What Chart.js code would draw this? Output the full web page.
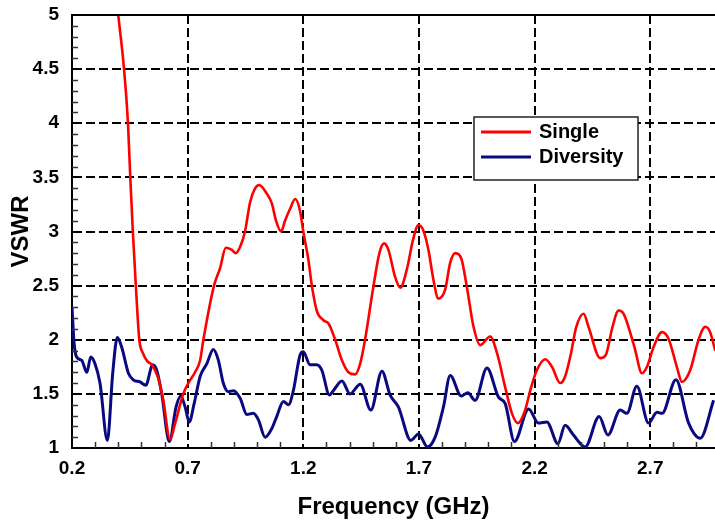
<!DOCTYPE html>
<html>
<head>
<meta charset="utf-8">
<script src="https://cdn.jsdelivr.net/npm/chart.js@4/dist/chart.umd.min.js"></script>
<style>
  html, body { margin: 0; padding: 0; background: #ffffff; }
  #wrap { width: 715px; height: 522px; position: relative; }
</style>
</head>
<body>
<div id="wrap"><canvas id="c" width="715" height="522"></canvas></div>
<script>
// ---- Data ----
const seriesNames = ['Single', 'Diversity'];
const xTickValues = [0.2, 0.7, 1.2, 1.7, 2.2, 2.7];
const yTickValues = [1, 1.5, 2, 2.5, 3, 3.5, 4, 4.5, 5];

const freqSingle = [0.400, 0.425, 0.442, 0.452, 0.463, 0.476, 0.491, 0.506, 0.526, 0.545,
  0.572, 0.594, 0.624, 0.645, 0.681, 0.703, 0.732, 0.754, 0.768, 0.814,
  0.840, 0.865, 0.891, 0.908, 0.927, 0.948, 0.970, 0.992, 1.009, 1.042,
  1.064, 1.082, 1.104, 1.121, 1.143, 1.165, 1.186, 1.200, 1.222, 1.237,
  1.258, 1.287, 1.309, 1.338, 1.367, 1.395, 1.424, 1.446, 1.467, 1.503,
  1.529, 1.549, 1.568, 1.597, 1.619, 1.650, 1.674, 1.698, 1.719, 1.741,
  1.763, 1.784, 1.813, 1.835, 1.857, 1.883, 1.907, 1.936, 1.965, 2.008,
  2.037, 2.073, 2.102, 2.128, 2.156, 2.185, 2.210, 2.246, 2.275, 2.311,
  2.332, 2.358, 2.379, 2.412, 2.433, 2.484, 2.508, 2.537, 2.563, 2.585,
  2.632, 2.664, 2.686, 2.714, 2.751, 2.779, 2.815, 2.837, 2.873, 2.909,
  2.938, 2.959, 2.981];
const vswrSingle = [5.00, 4.50, 4.00, 3.50, 3.00, 2.50, 2.00, 1.88, 1.80, 1.77,
  1.65, 1.45, 1.08, 1.22, 1.50, 1.60, 1.70, 1.81, 2.00, 2.50,
  2.66, 2.85, 2.83, 2.80, 2.86, 3.00, 3.27, 3.40, 3.43, 3.35,
  3.26, 3.10, 3.00, 3.10, 3.21, 3.30, 3.19, 3.00, 2.74, 2.50,
  2.27, 2.18, 2.15, 2.00, 1.81, 1.70, 1.68, 1.78, 2.00, 2.49,
  2.80, 2.89, 2.83, 2.58, 2.48, 2.67, 2.92, 3.06, 3.01, 2.83,
  2.55, 2.38, 2.46, 2.71, 2.80, 2.75, 2.49, 2.12, 1.95, 2.03,
  1.88, 1.56, 1.32, 1.23, 1.33, 1.56, 1.72, 1.82, 1.75, 1.60,
  1.66, 1.88, 2.11, 2.24, 2.12, 1.83, 1.86, 2.12, 2.27, 2.24,
  1.93, 1.69, 1.75, 1.93, 2.07, 2.01, 1.75, 1.61, 1.72, 2.00,
  2.12, 2.07, 1.90];

const freqDiversity = [0.200, 0.209, 0.220, 0.242, 0.264, 0.281, 0.299, 0.321, 0.353, 0.376,
  0.396, 0.415, 0.444, 0.465, 0.494, 0.519, 0.549, 0.566, 0.588, 0.621,
  0.650, 0.670, 0.689, 0.707, 0.728, 0.754, 0.783, 0.811, 0.833, 0.854,
  0.876, 0.898, 0.927, 0.956, 0.984, 1.006, 1.035, 1.064, 1.085, 1.114,
  1.136, 1.157, 1.186, 1.200, 1.229, 1.258, 1.280, 1.313, 1.330, 1.367,
  1.402, 1.446, 1.492, 1.540, 1.575, 1.611, 1.665, 1.698, 1.737, 1.770,
  1.806, 1.835, 1.883, 1.911, 1.943, 1.994, 2.044, 2.073, 2.113, 2.174,
  2.217, 2.253, 2.301, 2.332, 2.368, 2.419, 2.479, 2.517, 2.570, 2.599,
  2.642, 2.693, 2.729, 2.751, 2.811, 2.866, 2.916, 2.974];
const vswrDiversity = [2.30, 1.97, 1.84, 1.81, 1.70, 1.84, 1.78, 1.60, 1.07, 1.69,
  2.02, 1.93, 1.69, 1.63, 1.61, 1.58, 1.77, 1.72, 1.50, 1.06,
  1.38, 1.48, 1.38, 1.24, 1.41, 1.66, 1.78, 1.91, 1.81, 1.60,
  1.52, 1.53, 1.46, 1.31, 1.32, 1.26, 1.10, 1.18, 1.29, 1.43,
  1.40, 1.53, 1.86, 1.89, 1.77, 1.77, 1.72, 1.49, 1.53, 1.62,
  1.50, 1.59, 1.35, 1.71, 1.49, 1.38, 1.07, 1.13, 1.01, 1.10,
  1.38, 1.67, 1.48, 1.51, 1.44, 1.74, 1.47, 1.41, 1.06, 1.36,
  1.23, 1.24, 1.04, 1.21, 1.12, 1.01, 1.29, 1.12, 1.35, 1.32,
  1.57, 1.23, 1.33, 1.32, 1.63, 1.23, 1.09, 1.44];

const seriesColors = ['#ff0000', '#0a0a80'];

const toPoints = (xs, ys) => xs.map((x, i) => ({ x: x, y: ys[i] }));

// ---- Plugins ----
const minorTicks = {
  id: 'minorTicks',
  afterDatasetsDraw(chart) {
    const { ctx, chartArea, scales } = chart;
    ctx.save();
    ctx.strokeStyle = '#333333';
    ctx.lineWidth = 1.5;
    ctx.beginPath();
    for (let k = 11; k < 50; k++) {
      if (k % 5 === 0) continue;
      const py = Math.round(scales.y.getPixelForValue(k / 10)) + 0.5;
      ctx.moveTo(chartArea.left, py);
      ctx.lineTo(chartArea.left + 6, py);
    }
    for (let k = 3; k < 30; k++) {
      if ((k - 2) % 5 === 0) continue;
      const px = Math.round(scales.x.getPixelForValue(k / 10)) + 0.5;
      if (px > chartArea.right) continue;
      ctx.moveTo(px, chartArea.bottom);
      ctx.lineTo(px, chartArea.bottom - 6);
    }
    ctx.stroke();
    // solid top frame line
    ctx.strokeStyle = '#000000';
    ctx.lineWidth = 2;
    ctx.beginPath();
    ctx.moveTo(chartArea.left, chartArea.top);
    ctx.lineTo(chartArea.right, chartArea.top);
    ctx.stroke();
    ctx.restore();
  }
};

const boxLegend = {
  id: 'boxLegend',
  afterDraw(chart) {
    const { ctx } = chart;
    const bx = 474, by = 117, bw = 164, bh = 63;
    ctx.save();
    ctx.fillStyle = '#ffffff';
    ctx.fillRect(bx, by, bw, bh);
    ctx.strokeStyle = '#222222';
    ctx.lineWidth = 1.5;
    ctx.strokeRect(bx, by, bw, bh);
    ctx.font = 'bold 20px "Liberation Sans", Arial, sans-serif';
    ctx.textBaseline = 'middle';
    ctx.textAlign = 'left';
    chart.data.datasets.forEach((ds, i) => {
      const ly = by + 15 + i * 25;
      ctx.strokeStyle = ds.borderColor;
      ctx.lineWidth = 3;
      ctx.beginPath();
      ctx.moveTo(bx + 7, ly);
      ctx.lineTo(bx + 57, ly);
      ctx.stroke();
      ctx.fillStyle = '#000000';
      ctx.fillText(ds.label, bx + 65, ly + 0.5);
    });
    ctx.restore();
  }
};

const gridDash = (c) => (c.tick && Math.abs(c.tick.value - 5) < 1e-9) ? [] : [9, 4];

new Chart(document.getElementById('c'), {
  type: 'line',
  data: {
    datasets: [
      {
        label: seriesNames[0],
        data: toPoints(freqSingle, vswrSingle),
        borderColor: seriesColors[0],
        borderWidth: 2.6,
        pointRadius: 0,
        cubicInterpolationMode: 'monotone',
        fill: false
      },
      {
        label: seriesNames[1],
        data: toPoints(freqDiversity, vswrDiversity),
        borderColor: seriesColors[1],
        borderWidth: 3,
        pointRadius: 0,
        cubicInterpolationMode: 'monotone',
        fill: false
      }
    ]
  },
  options: {
    responsive: false,
    animation: false,
    devicePixelRatio: 1,
    layout: { padding: { top: 15, right: 0, bottom: 0, left: 0 } },
    plugins: {
      legend: { display: false },
      tooltip: { enabled: false }
    },
    scales: {
      x: {
        type: 'linear',
        min: 0.2,
        max: 2.98,
        afterBuildTicks: (s) => { s.ticks = xTickValues.map(v => ({ value: v })); },
        afterFit: (s) => { s.height = 74; s.paddingLeft = 0; s.paddingRight = 0; s.paddingTop = 0; s.paddingBottom = 0; },
        ticks: {
          color: '#000000',
          padding: 9,
          maxRotation: 0,
          autoSkip: false,
          font: { family: '"Liberation Sans", Arial, sans-serif', size: 19, weight: 'bold' },
          callback: (v) => String(v)
        },
        grid: { color: '#000000', lineWidth: 2, drawTicks: false },
        border: { display: true, color: '#000000', width: 2, dash: [9, 4] },
        title: {
          display: true,
          text: 'Frequency (GHz)',
          color: '#000000',
          padding: { top: 0, bottom: 0 },
          font: { family: '"Liberation Sans", Arial, sans-serif', size: 24, weight: 'bold' }
        }
      },
      y: {
        type: 'linear',
        min: 1,
        max: 5,
        afterBuildTicks: (s) => { s.ticks = yTickValues.map(v => ({ value: v })); },
        afterFit: (s) => { s.width = 72; s.paddingTop = 0; s.paddingBottom = 0; s.paddingLeft = 0; s.paddingRight = 0; },
        ticks: {
          color: '#000000',
          padding: 13,
          autoSkip: false,
          font: { family: '"Liberation Sans", Arial, sans-serif', size: 19, weight: 'bold' },
          callback: (v) => String(v)
        },
        grid: { color: '#000000', lineWidth: 2, drawTicks: false },
        border: { display: true, color: '#000000', width: 2, dash: gridDash },
        title: {
          display: true,
          text: 'VSWR',
          color: '#000000',
          padding: { top: 7, bottom: 0 },
          font: { family: '"Liberation Sans", Arial, sans-serif', size: 24, weight: 'bold' }
        }
      }
    }
  },
  plugins: [minorTicks, boxLegend]
});
</script>
</body>
</html>
